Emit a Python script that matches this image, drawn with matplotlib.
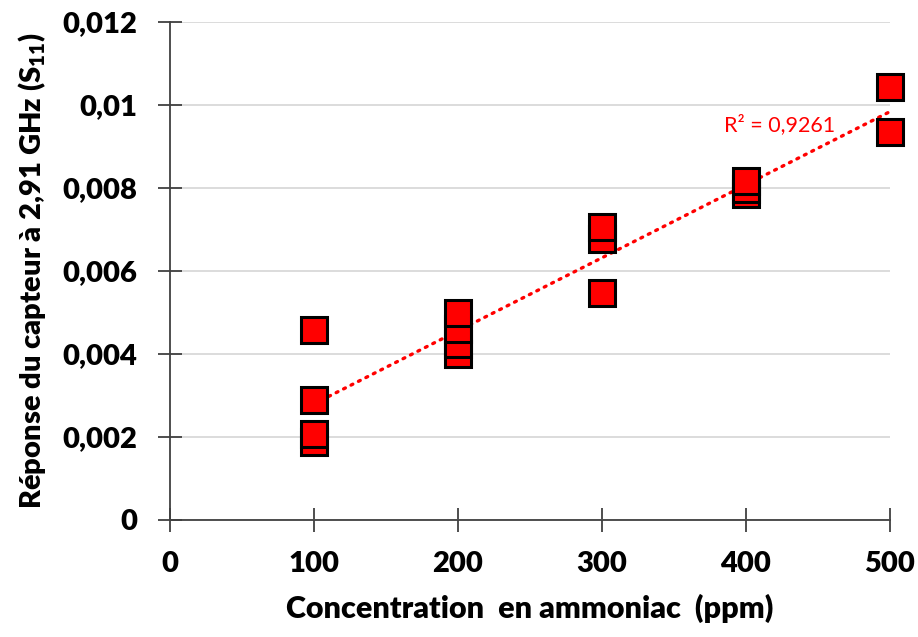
import numpy as np
import matplotlib.pyplot as plt

# Réponse du capteur S11 à 2,91 GHz selon la concentration en ammoniac
conc_ppm = [100, 100, 100, 100,
            200, 200, 200, 200,
            300, 300, 300,
            400, 400, 400,
            500, 500]
reponse = [0.00457, 0.00288, 0.00188, 0.00206,
           0.00399, 0.00425, 0.00459, 0.00498,
           0.00546, 0.00677, 0.00705,
           0.00786, 0.00798, 0.00817,
           0.01044, 0.00935]
r2_label = "R² = 0,9261"

x_ticks = [0, 100, 200, 300, 400, 500]
y_ticks = [0, 0.002, 0.004, 0.006, 0.008, 0.01, 0.012]
y_tick_labels = ["0", "0,002", "0,004", "0,006", "0,008", "0,01", "0,012"]

plt.rcParams['font.family'] = ['Lato', 'DejaVu Sans']

fig = plt.figure(figsize=(9.18, 6.37), dpi=100)
ax = fig.add_axes([0.185, 0.1837, 0.7845, 0.7818])

# courbe de tendance linéaire
a, b = np.polyfit(conc_ppm, reponse, 1)
xt = np.array([100, 500])
ax.plot(xt, a * xt + b, color='red', linestyle=(0, (0.6, 1.9)), linewidth=2.4,
        dash_capstyle='round', zorder=2)

ax.plot(conc_ppm, reponse, linestyle='none', marker='s', markersize=19,
        markerfacecolor='red', markeredgecolor='black', markeredgewidth=2.2,
        zorder=3, clip_on=False)

ax.text(385, 0.00952, r2_label, color='red', fontsize=15.5, ha='left', va='center')

ax.set_xlim(0, 500)
ax.set_ylim(0, 0.012)
ax.set_xticks(x_ticks)
ax.set_yticks(y_ticks)
ax.set_yticklabels(y_tick_labels)
ax.tick_params(direction='inout', length=17, width=1.3, color='#404040',
               labelsize=21)
ax.tick_params(axis='x', pad=14)
ax.tick_params(axis='y', pad=15)
for lab in ax.get_xticklabels() + ax.get_yticklabels():
    lab.set_fontweight('heavy')

ax.grid(axis='y', color='#d9d9d9', linewidth=1.3, zorder=0)
ax.set_axisbelow(True)
for s in ['top', 'right']:
    ax.spines[s].set_visible(False)
for s in ['left', 'bottom']:
    ax.spines[s].set_color('#404040')
    ax.spines[s].set_linewidth(1.3)

ax.set_xlabel("Concentration  en ammoniac  (ppm)", fontsize=22, fontweight='heavy',
              labelpad=12)
ax.set_ylabel(r"Réponse du capteur à 2,91 GHz (S$\mathregular{_{11}}$)", fontsize=21,
              fontweight='heavy', labelpad=10)

fig.savefig("out.png", dpi=100, facecolor='white')
